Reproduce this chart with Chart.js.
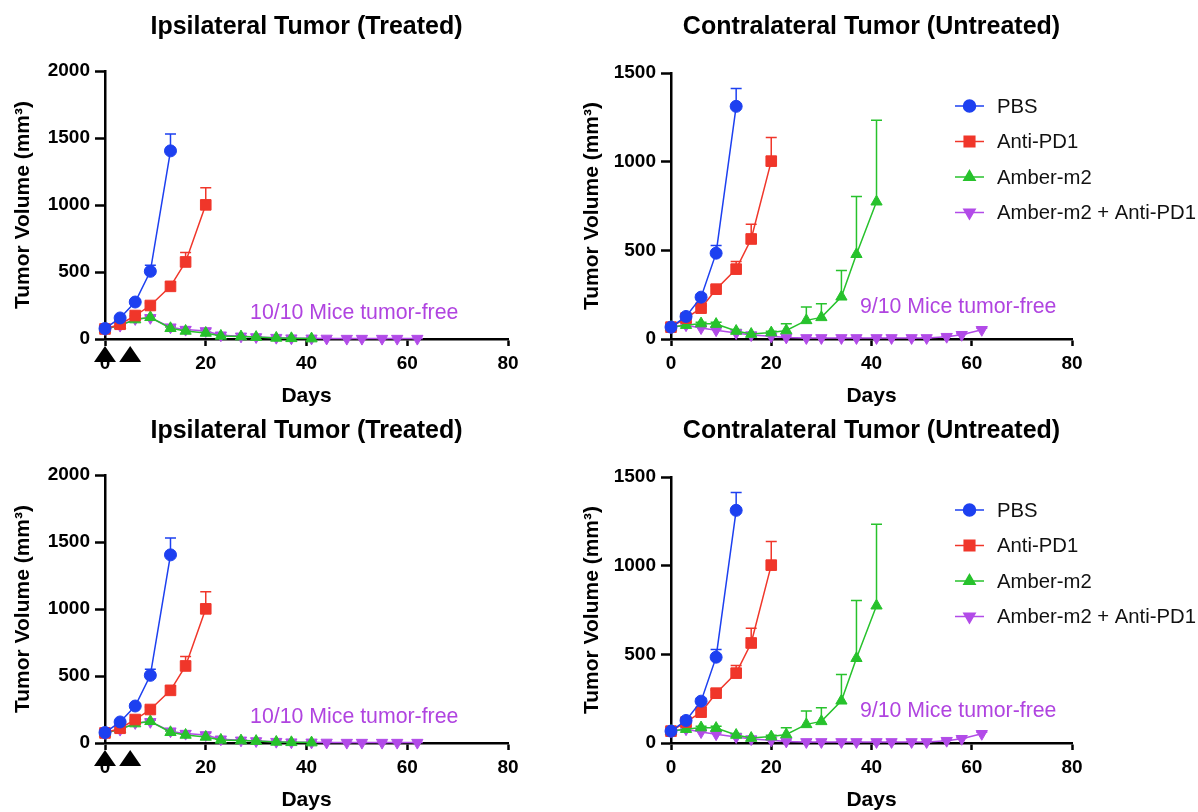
<!DOCTYPE html>
<html><head><meta charset="utf-8">
<script src="https://cdn.jsdelivr.net/npm/chart.js@4.4.1/dist/chart.umd.min.js"></script>
<style>
html,body{margin:0;padding:0;background:#fff;width:1198px;height:812px;overflow:hidden;position:relative;}
canvas{position:absolute;}
</style></head><body>
<canvas id="c1" width="560" height="411" style="left:0;top:0"></canvas>
<canvas id="c2" width="638" height="411" style="left:560px;top:0"></canvas>
<canvas id="c3" width="560" height="411" style="left:0;top:404px"></canvas>
<canvas id="c4" width="638" height="411" style="left:560px;top:404px"></canvas>
<script>
// ---------- data ----------
const days = [0,3,6,9,13,16,20,23,27,30,34,37,41,44,48,51,55,58,62];
const seriesNames = ['PBS','Anti-PD1','Amber-m2','Amber-m2 + Anti-PD1'];
const xTicks = [0,20,40,60,80];
const ipsiYTicks = [0,500,1000,1500,2000];
const contraYTicks = [0,500,1000,1500];
const treatmentDays = [0,5];

// Ipsilateral (treated) tumor
const ipsiPBS      = [78,157,276,505,1404];
const ipsiPBSErr   = [6,10,15,45,125];
const ipsiAnti     = [75,110,175,250,393,575,1001];
const ipsiAntiErr  = [6,8,12,18,30,70,127];
const ipsiAmber    = [75,102,145,162,80,60,45,23,18,14,8,5,3];
const ipsiAmberErr = [5,6,10,12,10,8,6,5,4,3,2,2,1];
const ipsiCombo    = [75,100,150,158,88,70,60,28,20,15,10,6,5,4,3,3,3,3,3];
const ipsiComboErr = [5,6,10,12,15,18,15,8,5,4,3,2,2,1,1,1,1,1,1];

// Contralateral (untreated) tumor
const contraPBS      = [67,127,236,484,1312];
const contraPBSErr   = [6,10,15,43,100];
const contraAnti     = [67,118,174,281,394,564,1003];
const contraAntiErr  = [6,8,12,18,43,83,133];
const contraAmber    = [67,78,87,84,45,28,36,48,105,122,238,478,774];
const contraAmberErr = [5,6,8,10,8,6,8,38,75,77,148,325,460];
const contraCombo    = [67,78,62,50,34,22,15,9,6,6,6,6,6,6,6,6,13,24,52];
const contraComboErr = [5,6,6,6,5,4,3,2,1,1,1,1,1,1,1,1,4,6,8];

const titles = ['Ipsilateral Tumor (Treated)','Contralateral Tumor (Untreated)'];
const notes = ['10/10 Mice tumor-free','9/10 Mice tumor-free'];
const notePos = [[28.8,195],[37.7,180]];

// ---------- style ----------
const F = '"Liberation Sans", Arial, Helvetica, sans-serif';
const colors = ['#1d40f0','#f0362a','#27c22c','#b24be8'];
const pStyles = [
  {pointStyle:'circle', radius:6, rotation:0},
  {pointStyle:'rect', radius:7.5, rotation:0},
  {pointStyle:'triangle', radius:6.5, rotation:0},
  {pointStyle:'triangle', radius:6.5, rotation:180}
];

function mk(vals, errs, i){
  return {
    label: seriesNames[i],
    data: vals.map((v,k)=>({x:days[k], y:v})),
    err: errs,
    borderColor: colors[i], backgroundColor: colors[i],
    pointBackgroundColor: colors[i], pointBorderColor: colors[i],
    borderWidth: 1.5, pointBorderWidth: 1,
    pointStyle: pStyles[i].pointStyle, pointRadius: pStyles[i].radius,
    pointRotation: pStyles[i].rotation,
    tension: 0, clip: false
  };
}

const errPlugin = {
  id:'err',
  beforeDatasetsDraw(chart){
    const ctx = chart.ctx, ys = chart.scales.y, xs = chart.scales.x;
    chart.data.datasets.forEach(ds=>{
      ctx.save(); ctx.strokeStyle = ds.borderColor; ctx.lineWidth = 1.5;
      ds.data.forEach((p,k)=>{
        const e = ds.err[k]; if(!e) return;
        const x = xs.getPixelForValue(p.x), y = ys.getPixelForValue(p.y), yt = ys.getPixelForValue(p.y+e);
        ctx.beginPath(); ctx.moveTo(x,y); ctx.lineTo(x,yt);
        ctx.moveTo(x-5.5,yt); ctx.lineTo(x+5.5,yt); ctx.stroke();
      });
      ctx.restore();
    });
  }
};

const decoPlugin = {
  id:'deco',
  afterDraw(chart){
    const o = chart.options.plugins.deco, ctx = chart.ctx, ca = chart.chartArea;
    const xs = chart.scales.x, ys = chart.scales.y;
    ctx.save();
    // title
    ctx.fillStyle = '#000'; ctx.font = 'bold 25px ' + F;
    ctx.textAlign = 'center'; ctx.textBaseline = 'middle';
    ctx.fillText(o.title, (ca.left+ca.right)/2, 27);
    // annotation
    ctx.fillStyle = '#b044e0'; ctx.font = '21.3px ' + F; ctx.textAlign = 'left';
    ctx.fillText(o.note, xs.getPixelForValue(o.notePos[0]), ys.getPixelForValue(o.notePos[1]));
    // treatment markers
    if (o.treat){
      ctx.fillStyle = '#000';
      treatmentDays.forEach(d=>{
        const cx = xs.getPixelForValue(d), b = ca.bottom;
        ctx.beginPath(); ctx.moveTo(cx, b+7); ctx.lineTo(cx+11, b+23); ctx.lineTo(cx-11, b+23); ctx.closePath(); ctx.fill();
      });
    }
    // legend
    if (o.legend){
      chart.data.datasets.forEach((ds,i)=>{
        const y = 106 + i*35.5, x0 = o.legendX;
        ctx.strokeStyle = ds.borderColor; ctx.lineWidth = 1.5;
        ctx.beginPath(); ctx.moveTo(x0,y); ctx.lineTo(x0+29,y); ctx.stroke();
        ctx.fillStyle = ds.borderColor; ctx.strokeStyle = ds.borderColor;
        Chart.helpers.drawPoint(ctx, {pointStyle: ds.pointStyle, radius: ds.pointRadius, rotation: ds.pointRotation, borderWidth:1}, x0+14.5, y);
        ctx.fillStyle = '#111'; ctx.font = '20.3px ' + F; ctx.textAlign='left'; ctx.textBaseline='middle';
        ctx.fillText(ds.label, x0+42, y+1);
      });
    }
    ctx.restore();
  }
};

function build(id, sets, yTicks, geo, deco){
  const ticksFont = {family:F, size:19, weight:'bold'};
  const titleFont = {family:F, size:21, weight:'bold', lineHeight:1.2};
  new Chart(document.getElementById(id), {
    type:'line',
    data:{datasets: sets},
    plugins:[errPlugin, decoPlugin],
    options:{
      responsive:false, animation:false, events:[],
      layout:{padding:{left:0, top:geo.top, right:geo.right, bottom:0}},
      plugins:{legend:{display:false}, tooltip:{enabled:false}, deco: deco},
      scales:{
        x:{type:'linear', min:0, max:80,
          afterBuildTicks:s=>{s.ticks = xTicks.map(v=>({value:v}));},
          afterFit:s=>{s.height = geo.xh;},
          grid:{drawOnChartArea:false, drawTicks:true, tickLength:7, tickWidth:2.5, tickColor:'#000', color:'#000'},
          border:{display:true, color:'#000', width:2.5},
          ticks:{color:'#000', font:ticksFont, padding:6, maxRotation:0, autoSkip:false, callback:v=>String(v)},
          title:{display:true, text:'Days', color:'#000', font:titleFont, padding:{top:0,bottom:2}}
        },
        y:{type:'linear', min:0, max:yTicks[yTicks.length-1],
          afterBuildTicks:s=>{s.ticks = yTicks.map(v=>({value:v}));},
          afterFit:s=>{s.width = geo.yw;},
          grid:{drawOnChartArea:false, drawTicks:true, tickLength:10, tickWidth:2.5, tickColor:'#000', color:'#000'},
          border:{display:true, color:'#000', width:2.5},
          ticks:{color:'#000', font:ticksFont, padding:5, callback:v=>String(v)},
          title:{display:true, text:'Tumor Volume (mm³)', color:'#000', font:titleFont, padding:{top:geo.tpad,bottom:0}}
        }
      }
    }
  });
}

function ipsiSets(){ return [mk(ipsiPBS,ipsiPBSErr,0), mk(ipsiAnti,ipsiAntiErr,1), mk(ipsiAmber,ipsiAmberErr,2), mk(ipsiCombo,ipsiComboErr,3)]; }
function contraSets(){ return [mk(contraPBS,contraPBSErr,0), mk(contraAnti,contraAntiErr,1), mk(contraAmber,contraAmberErr,2), mk(contraCombo,contraComboErr,3)]; }

const geoL = {top:71, right:52, xh:72, yw:105, tpad:11};
const geoR = {top:73, right:126, xh:72, yw:111, tpad:20};
const decoL = {title:titles[0], note:notes[0], notePos:notePos[0], treat:true, legend:false};
const decoR = {title:titles[1], note:notes[1], notePos:notePos[1], treat:false, legend:true, legendX:395};

build('c1', ipsiSets(), ipsiYTicks, geoL, decoL);
build('c2', contraSets(), contraYTicks, geoR, decoR);
build('c3', ipsiSets(), ipsiYTicks, geoL, decoL);
build('c4', contraSets(), contraYTicks, geoR, decoR);
</script>
</body></html>
